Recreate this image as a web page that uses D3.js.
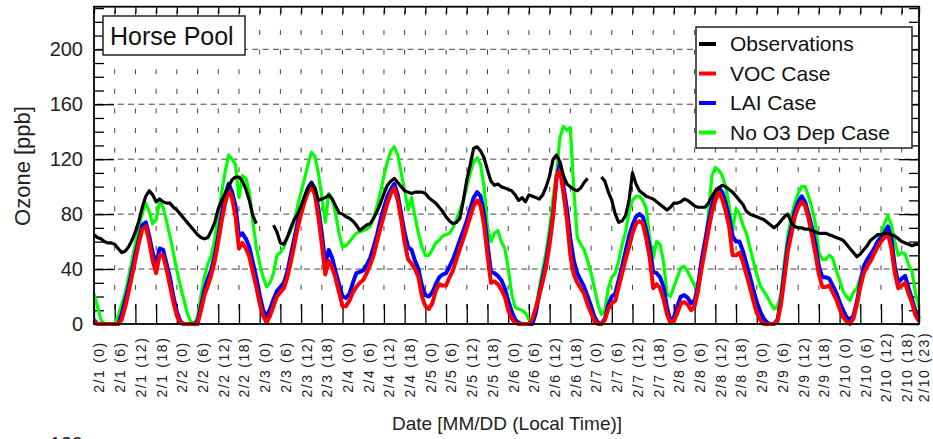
<!DOCTYPE html>
<html>
<head>
<meta charset="utf-8">
<script src="https://cdn.jsdelivr.net/npm/d3@7/dist/d3.min.js"></script>
<style>
  body { margin: 0; background: #fff; }
  svg { display: block; font-family: "Liberation Sans", Arial, Helvetica, sans-serif; }
</style>
</head>
<body>
<svg id="chart" width="933" height="439"></svg>
<script>
// Hourly ozone (ppb) at Horse Pool, 2/1 00h through 2/10 23h local time
const observations = [
  65,63,62,60,59,59,58,55,52,53,
  56,61,67,75,85,93,97,94,89,91,
  89,88,88,85,83,80,77,74,71,68,
  65,63,62,63,68,74,84,90,95,100,
  105,107,107,104,98,90,79,73,null,null,
  null,null,72,67,59,58,63,70,76,80,
  86,93,99,102,99,90,91,92,94,91,
  86,81,80,78,77,75,72,68,70,72,
  73,77,82,88,95,101,104,106,103,100,
  97,96,95,96,96,96,95,92,90,88,
  85,82,78,75,73,74,77,90,105,116,
  128,129,126,121,112,104,101,102,100,99,
  98,97,94,90,92,89,94,93,92,91,
  94,100,108,120,123,118,108,102,100,98,
  97,99,103,106,null,null,null,107,104,96,
  90,80,74,75,79,90,110,102,97,95,
  93,92,91,89,87,85,83,85,88,88,
  89,91,90,88,86,85,85,85,88,93,
  97,99,101,100,98,96,93,90,87,82,
  80,79,78,77,76,74,72,70,72,75,
  78,80,74,71,70,70,69,69,68,67,
  66,66,66,65,64,63,62,61,58,55,
  52,49,51,54,57,61,63,65,65,66,
  66,65,64,62,60,59,58,57,58,58
];

const vocCase = [
  2,0,0,0,0,0,0,0,3,12,
  23,35,47,59,69,71,60,46,37,50,
  50,40,28,16,6,1,0,0,0,0,
  0,10,21,28,36,46,60,75,88,97,
  92,78,55,59,55,49,38,27,15,6,
  1,6,13,20,23,26,34,45,57,70,
  80,89,96,100,94,78,58,36,46,41,
  33,23,13,13,17,23,27,30,32,37,
  43,50,60,70,79,88,95,99,90,76,
  59,47,44,40,34,20,13,11,15,24,
  29,28,28,34,39,47,55,62,70,78,
  86,90,86,72,50,30,31,29,25,20,
  10,4,1,0,0,0,0,4,12,21,
  31,42,58,78,108,112,95,76,50,36,
  30,26,22,14,8,2,0,0,3,11,
  15,17,27,37,47,56,66,73,75,73,
  62,48,26,29,26,18,7,1,2,8,
  15,16,14,10,13,24,40,54,68,81,
  90,96,91,82,71,50,50,52,45,36,
  27,17,8,3,0,0,0,0,2,14,
  33,53,65,78,85,89,86,77,64,51,
  36,27,27,28,23,18,11,5,2,0,
  4,14,27,37,42,46,51,56,60,63,
  66,55,37,26,28,30,22,15,6,2
];

const laiCase = [
  3,0,0,0,0,0,0,0,7,17,
  27,39,51,62,72,74,64,52,43,55,
  54,44,34,20,9,2,0,0,0,0,
  2,13,25,33,40,50,64,80,94,102,
  96,86,64,66,62,56,45,34,21,10,
  5,11,18,24,27,30,38,50,62,74,
  84,92,99,103,98,84,66,44,54,48,
  38,29,20,19,22,30,37,38,39,43,
  48,56,65,76,85,93,98,102,94,80,
  66,56,54,46,40,28,21,20,23,29,
  34,36,37,42,47,54,61,68,75,84,
  92,96,93,80,58,38,37,35,32,26,
  17,9,3,1,0,0,0,0,8,22,
  34,46,62,80,106,117,100,84,62,46,
  37,32,27,20,13,5,1,0,4,14,
  20,22,32,42,53,64,72,78,80,78,
  68,56,38,37,34,27,12,2,5,13,
  20,21,19,15,17,28,46,60,74,86,
  94,99,96,88,78,64,60,60,53,44,
  35,25,16,9,4,1,0,0,3,17,
  38,58,70,82,89,93,89,80,70,58,
  42,34,34,33,28,23,16,10,5,3,
  6,16,30,42,47,51,55,60,63,67,
  71,62,42,30,33,35,26,18,9,4
];

const noO3DepCase = [
  22,13,3,0,0,0,0,6,14,22,
  34,46,59,71,81,88,82,73,76,89,
  85,75,64,52,39,28,18,8,2,0,
  5,21,34,44,50,62,80,96,111,123,
  120,116,92,108,106,96,75,56,44,34,
  27,30,37,50,52,56,63,68,75,86,
  96,106,116,125,122,110,92,74,95,91,
  80,66,56,57,60,63,66,67,68,69,
  71,77,86,96,108,118,126,129,123,110,
  97,83,92,78,66,56,50,50,54,59,
  61,64,65,66,70,76,83,90,100,110,
  118,121,116,100,70,60,66,68,60,55,
  41,22,12,11,10,8,3,1,12,26,
  40,53,70,92,110,136,144,141,143,98,
  63,58,54,46,37,26,14,7,10,26,
  34,37,46,58,67,82,90,93,93,90,
  84,62,48,60,58,45,22,20,27,34,
  41,42,38,33,28,30,42,56,80,108,
  114,112,108,100,86,68,84,80,72,66,
  56,46,36,28,24,20,15,11,13,22,
  45,65,78,88,95,100,100,93,84,73,
  52,47,47,50,48,39,32,24,20,17,
  23,26,34,40,44,48,54,60,66,73,
  79,72,60,50,52,51,43,38,22,12
];

const tickHours = [
  0,6,12,18,24,30,36,42,48,54,60,66,72,78,84,90,96,102,108,114,
  120,126,132,138,144,150,156,162,168,174,180,186,192,198,204,210,216,222,228,234,239
];
const tickLabels = [
  "2/1 (0)","2/1 (6)","2/1 (12)","2/1 (18)",
  "2/2 (0)","2/2 (6)","2/2 (12)","2/2 (18)",
  "2/3 (0)","2/3 (6)","2/3 (12)","2/3 (18)",
  "2/4 (0)","2/4 (6)","2/4 (12)","2/4 (18)",
  "2/5 (0)","2/5 (6)","2/5 (12)","2/5 (18)",
  "2/6 (0)","2/6 (6)","2/6 (12)","2/6 (18)",
  "2/7 (0)","2/7 (6)","2/7 (12)","2/7 (18)",
  "2/8 (0)","2/8 (6)","2/8 (12)","2/8 (18)",
  "2/9 (0)","2/9 (6)","2/9 (12)","2/9 (18)",
  "2/10 (0)","2/10 (6)","2/10 (12)","2/10 (18)","2/10 (23)"
];
const yTicks = [0, 40, 80, 120, 160, 200];
const yMinorTicks = d3.range(0, 231, 10);

const seriesNames = ["Observations", "VOC Case", "LAI Case", "No O3 Dep Case"];
const seriesColors = ["#000000", "#ff0000", "#0000ff", "#00ff00"];

// ---- layout ----
const plot = { left: 94, right: 919, top: 6.7, bottom: 324 };
const svg = d3.select("#chart");
svg.append("rect").attr("width", 933).attr("height", 439).attr("fill", "#fff");

const x = d3.scaleLinear().domain([0, 239]).range([plot.left, plot.right]);
const y = d3.scaleLinear().domain([0, 231]).range([plot.bottom, plot.top]);

// ---- dashed grid ----
const grid = svg.append("g").attr("stroke", "#444").attr("stroke-width", 1).attr("fill", "none");
grid.selectAll("line.h")
  .data(yTicks.filter(v => v > 0))
  .join("line")
  .attr("x1", plot.left).attr("x2", plot.right)
  .attr("y1", d => y(d)).attr("y2", d => y(d))
  .attr("stroke-dasharray", "6,4.35")
  .attr("stroke-dashoffset", -3);
grid.selectAll("line.v")
  .data(tickHours.filter(h => h > 0 && h < 239))
  .join("line")
  .attr("x1", d => x(d)).attr("x2", d => x(d))
  .attr("y1", plot.bottom).attr("y2", plot.top)
  .attr("stroke-dasharray", "5,14.6")
  .attr("stroke-dashoffset", 5);

// ---- axes (ticks point inward) ----
const axisStyle = g => {
  g.select(".domain").remove();
  g.selectAll(".tick line").attr("stroke", "#000").attr("stroke-width", 1.3);
};

svg.append("g")
  .attr("transform", `translate(0,${plot.bottom})`)
  .call(d3.axisBottom(x).tickValues(tickHours).tickSize(-20).tickFormat(""))
  .call(axisStyle);
svg.append("g")
  .attr("transform", `translate(0,${plot.top})`)
  .call(d3.axisTop(x).tickValues(tickHours).tickSize(-7).tickFormat(""))
  .call(axisStyle);

svg.append("g")
  .attr("transform", `translate(${plot.left},0)`)
  .call(d3.axisLeft(y).tickValues(yMinorTicks).tickSize(-10).tickFormat(""))
  .call(axisStyle);
const yAxisLeft = svg.append("g")
  .attr("transform", `translate(${plot.left},0)`)
  .call(d3.axisLeft(y).tickValues(yTicks).tickSize(-20).tickPadding(11).tickFormat(d3.format("d")))
  .call(axisStyle);
yAxisLeft.selectAll(".tick text")
  .attr("font-size", 20).attr("fill", "#222")
  .attr("font-family", "'Liberation Sans', Arial, sans-serif");

svg.append("g")
  .attr("transform", `translate(${plot.right},0)`)
  .call(d3.axisRight(y).tickValues(yMinorTicks).tickSize(-10).tickFormat(""))
  .call(axisStyle);
svg.append("g")
  .attr("transform", `translate(${plot.right},0)`)
  .call(d3.axisRight(y).tickValues(yTicks).tickSize(-20).tickFormat(""))
  .call(axisStyle);

// rotated hour labels under the x axis
svg.append("g").selectAll("text")
  .data(tickHours)
  .join("text")
  .attr("transform", d => `translate(${x(d) + 5.5},367) rotate(-90)`)
  .attr("text-anchor", "middle")
  .attr("dy", "0.35em")
  .attr("font-size", 14)
  .attr("letter-spacing", "1.6px")
  .attr("fill", "#222")
  .text((d, i) => tickLabels[i]);

// ---- series ----
const line = d3.line()
  .defined(d => d.v !== null)
  .x(d => x(d.h))
  .y(d => y(d.v));
const toPoints = arr => arr.map((v, h) => ({ h, v }));

const drawOrder = [
  { data: noO3DepCase, color: seriesColors[3], width: 3.2 },
  { data: laiCase, color: seriesColors[2], width: 4 },
  { data: vocCase, color: seriesColors[1], width: 4 },
  { data: observations, color: seriesColors[0], width: 3.2 }
];
svg.append("g").selectAll("path")
  .data(drawOrder)
  .join("path")
  .attr("fill", "none")
  .attr("stroke", d => d.color)
  .attr("stroke-width", d => d.width)
  .attr("stroke-linejoin", "round")
  .attr("stroke-linecap", "butt")
  .attr("d", d => line(toPoints(d.data)));

// ---- frame ----
svg.append("rect")
  .attr("x", plot.left).attr("y", plot.top)
  .attr("width", plot.right - plot.left).attr("height", plot.bottom - plot.top)
  .attr("fill", "none").attr("stroke", "#000").attr("stroke-width", 1.8);

// ---- site label ----
svg.append("rect")
  .attr("x", 103).attr("y", 16).attr("width", 142).attr("height", 39)
  .attr("fill", "#fff").attr("stroke", "#222").attr("stroke-width", 1.5);
svg.append("text")
  .attr("x", 110).attr("y", 45)
  .attr("font-size", 25).attr("fill", "#111")
  .text("Horse Pool");

// ---- legend ----
const legend = svg.append("g");
legend.append("rect")
  .attr("x", 696).attr("y", 27).attr("width", 216).attr("height", 121)
  .attr("fill", "#fff").attr("stroke", "#222").attr("stroke-width", 1.5);
const rows = legend.selectAll("g.row")
  .data(seriesNames)
  .join("g")
  .attr("transform", (d, i) => `translate(0,${44 + i * 29.5})`);
rows.append("line")
  .attr("x1", 699).attr("x2", 716)
  .attr("stroke", (d, i) => seriesColors[i])
  .attr("stroke-width", 4);
rows.append("text")
  .attr("x", 730).attr("dy", "0.35em")
  .attr("font-size", 21).attr("fill", "#111")
  .text(d => d);

// ---- axis titles ----
svg.append("text")
  .attr("transform", "translate(30,166) rotate(-90)")
  .attr("text-anchor", "middle")
  .attr("font-size", 22).attr("fill", "#222")
  .text("Ozone [ppb]");
svg.append("text")
  .attr("x", 507).attr("y", 430)
  .attr("text-anchor", "middle")
  .attr("font-size", 19).attr("fill", "#222")
  .text("Date [MM/DD (Local Time)]");

// top of the next panel's first tick label, cut by the page edge
svg.append("text")
  .attr("x", 83).attr("y", 451)
  .attr("text-anchor", "end")
  .attr("font-size", 20).attr("fill", "#222")
  .text("120");
</script>
</body>
</html>
